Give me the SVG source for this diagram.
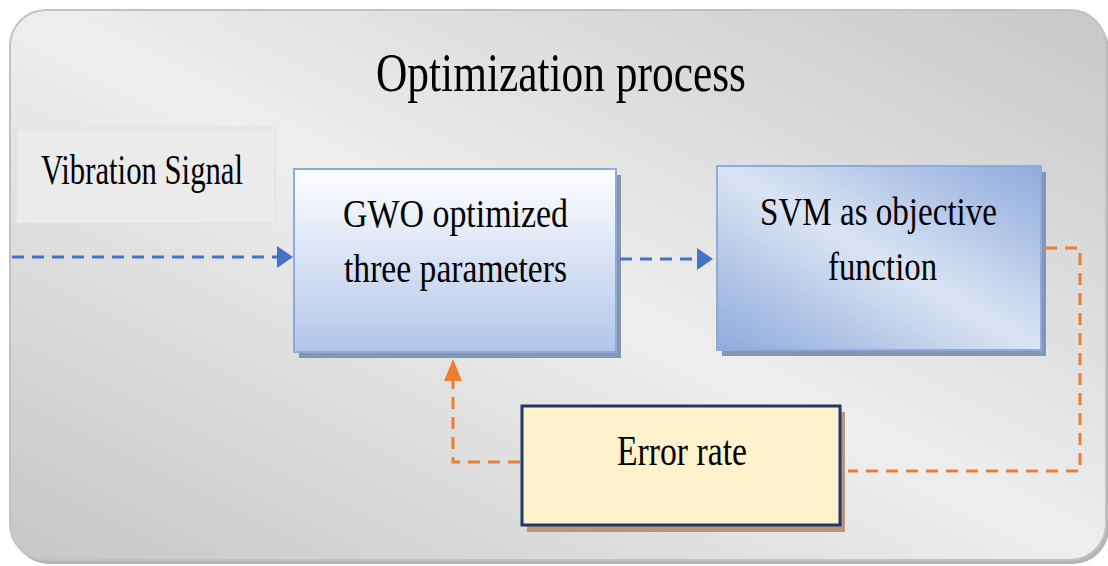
<svg xmlns="http://www.w3.org/2000/svg" width="1108" height="566" viewBox="0 0 1108 566">
  <style>
    .t { font-family: "Liberation Serif", "Times New Roman", serif; fill: #000; }
    .blue { fill: none; stroke: #4472c4; stroke-width: 3; stroke-dasharray: 12 8; }
    .orange { fill: none; stroke: #ed7d31; stroke-width: 3; stroke-dasharray: 12 8; }
  </style>
  <defs>
    <linearGradient id="bg" x1="1" y1="0" x2="0" y2="1">
      <stop offset="0" stop-color="#c8c8c8"/>
      <stop offset="0.5" stop-color="#eeeeee"/>
      <stop offset="1" stop-color="#c6c6c6"/>
    </linearGradient>
    <linearGradient id="gwo" x1="0" y1="0" x2="0" y2="1">
      <stop offset="0" stop-color="#ffffff"/>
      <stop offset="1" stop-color="#b2c5e8"/>
    </linearGradient>
    <linearGradient id="svm" x1="1" y1="0" x2="0" y2="1">
      <stop offset="0" stop-color="#8eaadb"/>
      <stop offset="0.5" stop-color="#dbe4f4"/>
      <stop offset="1" stop-color="#8eaadb"/>
    </linearGradient>
    <marker id="arrB" viewBox="0 0 16 22" refX="0" refY="11" markerWidth="16" markerHeight="22" markerUnits="userSpaceOnUse" orient="auto">
      <path d="M0,0 L16,11 L0,22 z" fill="#4472c4"/>
    </marker>
    <marker id="arrO" viewBox="0 0 22 18" refX="0" refY="9" markerWidth="22" markerHeight="18" markerUnits="userSpaceOnUse" orient="auto">
      <path d="M0,0 L22,9 L0,18 z" fill="#ed7d31"/>
    </marker>
  </defs>

  <g id="frame">
    <rect x="13" y="14" width="1096" height="550" rx="36" fill="#b4b4b4"/>
    <rect x="10" y="10" width="1096" height="550" rx="36" fill="url(#bg)" stroke="#c2c2c2" stroke-width="2"/>
    <text class="t" x="376" y="91" font-size="54" textLength="370" lengthAdjust="spacingAndGlyphs">Optimization process</text>
  </g>

  <g id="vibration-signal">
    <rect x="16" y="128" width="259" height="95" fill="#ebebeb" stroke="#e0e0e0" stroke-width="1"/>
    <text class="t" x="41" y="184" font-size="43" textLength="202" lengthAdjust="spacingAndGlyphs">Vibration Signal</text>
  </g>

  <g id="gwo">
    <rect x="299" y="175" width="322" height="183" fill="#8496b0"/>
    <rect x="294" y="169" width="322" height="183" fill="url(#gwo)" stroke="#8faadc" stroke-width="2"/>
    <text class="t" x="343" y="227" font-size="41" textLength="225" lengthAdjust="spacingAndGlyphs">GWO optimized</text>
    <text class="t" x="344" y="282" font-size="41" textLength="223" lengthAdjust="spacingAndGlyphs">three parameters</text>
  </g>

  <g id="svm">
    <rect x="722" y="172" width="324" height="184" fill="#8496b0"/>
    <rect x="717" y="166" width="324" height="184" fill="url(#svm)" stroke="#8faadc" stroke-width="2"/>
    <text class="t" x="760" y="225" font-size="41" textLength="237" lengthAdjust="spacingAndGlyphs">SVM as objective</text>
    <text class="t" x="828" y="280" font-size="41" textLength="109" lengthAdjust="spacingAndGlyphs">function</text>
  </g>

  <g id="error-rate">
    <rect x="527" y="412" width="318" height="120" fill="#b9957e"/>
    <rect x="522" y="406" width="318" height="119" fill="#fff2cc" stroke="#1f3864" stroke-width="3"/>
    <text class="t" x="617" y="465" font-size="42" textLength="130" lengthAdjust="spacingAndGlyphs">Error rate</text>
  </g>

  <g id="connectors">
    <path class="blue" d="M12,257 H277" marker-end="url(#arrB)"/>
    <path class="blue" d="M620,259 H697" marker-end="url(#arrB)"/>
    <path class="orange" d="M1045,248 H1080 V471 H848"/>
    <path class="orange" d="M520,462 H453 V381" marker-end="url(#arrO)"/>
  </g>
</svg>
